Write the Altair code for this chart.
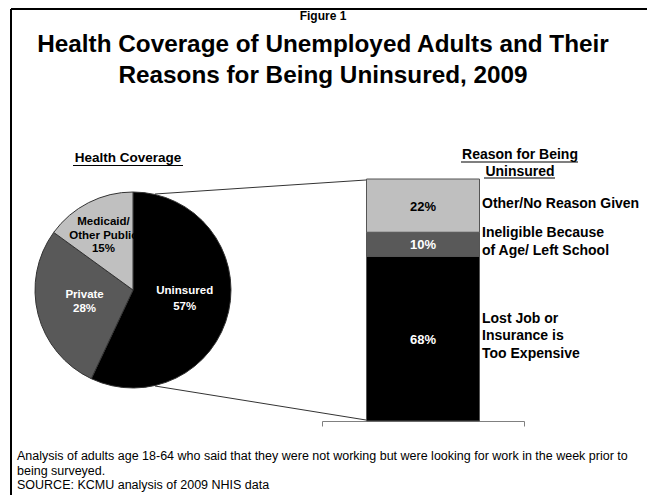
import math
import altair as alt
import pandas as pd

# ---------------- data ----------------
pie_cats = ["Uninsured", "Private", "Medicaid/Other Public"]
pie_vals = [57, 28, 15]
pie_names = ["Uninsured", "Private", "Medicaid/\nOther Public"]

bar_cats = ["Lost Job or Insurance is Too Expensive",
            "Ineligible Because of Age/ Left School",
            "Other/No Reason Given"]
bar_vals = [68, 10, 22]
bar_names = ["Lost Job or\nInsurance is\nToo Expensive",
             "Ineligible Because\nof Age/ Left School",
             "Other/No Reason Given"]

fig_label = "Figure 1"
title_text = "Health Coverage of Unemployed Adults and Their\nReasons for Being Uninsured, 2009"
left_header = "Health Coverage"
right_header = "Reason for Being\nUninsured"
footnote = ("Analysis of adults age 18-64 who said that they were not working but were looking for work in the week prior to\n"
            "being surveyed.\n"
            "SOURCE: KCMU analysis of 2009 NHIS data")

pie_colors = ["#000000", "#595959", "#c0c0c0"]
bar_colors = ["#000000", "#595959", "#bfbfbf"]

FONT = "Liberation Sans"
W, H = 647, 495

pie_df = pd.DataFrame({
    "cat": pie_cats, "val": pie_vals, "ord": list(range(len(pie_cats))),
    "lab": [f"{n}\n{v}%" for n, v in zip(pie_names, pie_vals)],
})
bar_df = pd.DataFrame({
    "cat": bar_cats, "val": bar_vals, "ord": list(range(len(bar_cats))),
    "pct": [f"{v}%" for v in bar_vals],
    "lab": bar_names,
})

# ---------------- pie ----------------
CX, CY, R = 133, 290, 98
TH = alt.Scale(domain=[0, 100], range=[0, 2 * math.pi])

pbase = alt.Chart(pie_df).transform_stack(
    stack="val", groupby=[], as_=["s0", "s1"], sort=[alt.SortField("ord", order="ascending")]
).transform_calculate(mid="(datum.s0 + datum.s1) / 2")

arcs = pbase.mark_arc(radius=R, stroke="#333333", strokeWidth=1).encode(
    theta=alt.Theta("s0:Q", scale=TH),
    theta2="s1:Q",
    color=alt.Color("cat:N", scale=alt.Scale(domain=pie_cats, range=pie_colors), legend=None),
    x=alt.value(CX), y=alt.value(CY),
)


def pie_label(ord_, radius, dy, lh, color):
    return pbase.transform_filter(f"datum.ord == {ord_}").mark_text(
        radius=radius, dy=dy, font=FONT, fontWeight="bold", fontSize=11.5, lineBreak="\n",
        lineHeight=lh, align="center", baseline="middle", color=color,
    ).encode(theta=alt.Theta("mid:Q", scale=TH), text="lab:N",
             x=alt.value(CX), y=alt.value(CY))


pie_labels = [
    pie_label(0, 53, -11, 16, "white"),
    pie_label(1, 50, -7, 13.5, "white"),
    pie_label(2, 65, -10, 13.5, "black"),
]

# ---------------- stacked bar ----------------
YS = alt.Scale(domain=[0, 100], range=[421, 179])
XS = alt.Scale(domain=["u"], range=[322, 524], paddingInner=0, paddingOuter=0)

bbase = alt.Chart(bar_df).transform_stack(
    stack="val", groupby=[], as_=["y0", "y1"], sort=[alt.SortField("ord", order="ascending")]
).transform_calculate(mid="(datum.y0 + datum.y1) / 2", g="'u'")

bars = bbase.mark_bar(width=113, stroke="#555555", strokeWidth=1).encode(
    x=alt.X("g:N", scale=XS, axis=alt.Axis(title=None, labels=False, grid=False,
                                             domainColor="#808080", tickColor="#808080",
                                             domainWidth=1, tickWidth=1,
                                             tickBand="extent", tickSize=5, offset=-74)),
    y=alt.Y("y0:Q", scale=YS, axis=None),
    y2="y1:Q",
    color=alt.Color("cat:N", scale=alt.Scale(domain=bar_cats, range=bar_colors), legend=None),
)

pct_txt = bbase.mark_text(font=FONT, fontWeight="bold", fontSize=13, baseline="middle", dy=1).encode(
    x=alt.X("g:N", scale=XS), y=alt.Y("mid:Q", scale=YS),
    text="pct:N",
    color=alt.condition("datum.ord == 2", alt.value("black"), alt.value("white")),
)


def side_label(ord_, dy):
    return bbase.transform_filter(f"datum.ord == {ord_}").mark_text(
        font=FONT, fontWeight="bold", fontSize=14, align="left", baseline="middle",
        dx=59, dy=dy, lineBreak="\n", lineHeight=17.5, color="black",
    ).encode(x=alt.X("g:N", scale=XS), y=alt.Y("mid:Q", scale=YS), text="lab:N")


side_labels = [side_label(0, -20), side_label(1, -11), side_label(2, -2)]

# ---------------- decorations ----------------
one = pd.DataFrame({"k": [0]})


def rule(x, y, x2, y2, color="#333333", w=1.0):
    return alt.Chart(one).mark_rule(color=color, strokeWidth=w).encode(
        x=alt.value(x), y=alt.value(y), x2=alt.value(x2), y2=alt.value(y2))


def text(t, x, y, size, weight="bold", align="center", lh=None):
    kw = dict(font=FONT, fontSize=size, fontWeight=weight, align=align, baseline="middle",
              lineBreak="\n", color="black")
    if lh is not None:
        kw["lineHeight"] = lh
    return alt.Chart(pd.DataFrame({"t": [t]})).mark_text(**kw).encode(
        text="t:N", x=alt.value(x), y=alt.value(y))


deco = [
    rule(11, 9, W, 9, "black", 2),
    rule(11, 9, 11, H, "black", 2),
    rule(155, 194, 366, 180),
    rule(155, 386, 366, 420),
    text(fig_label, 323, 16, 12),
    text(title_text, 323, 45, 24.3, lh=31),
    text(left_header, 128, 158, 13.5),
    rule(73, 165.5, 183, 165.5, "black", 1.2),
    text(right_header, 520, 154.5, 14, lh=17),
    rule(461, 162, 578, 162, "black", 1.2),
    rule(484, 178, 555, 178, "black", 1.2),
    text(footnote, 17, 456, 12.5, weight="normal", align="left", lh=14.5),
]

chart = alt.layer(arcs, *pie_labels, bars, pct_txt, *side_labels, *deco).resolve_scale(
    color="independent"
).properties(
    width=W, height=H, padding=0, autosize=alt.AutoSizeParams(type="none"),
    background="white",
).configure_view(stroke=None)

chart.save("out.html", embed_options={"renderer": "svg", "actions": False})
